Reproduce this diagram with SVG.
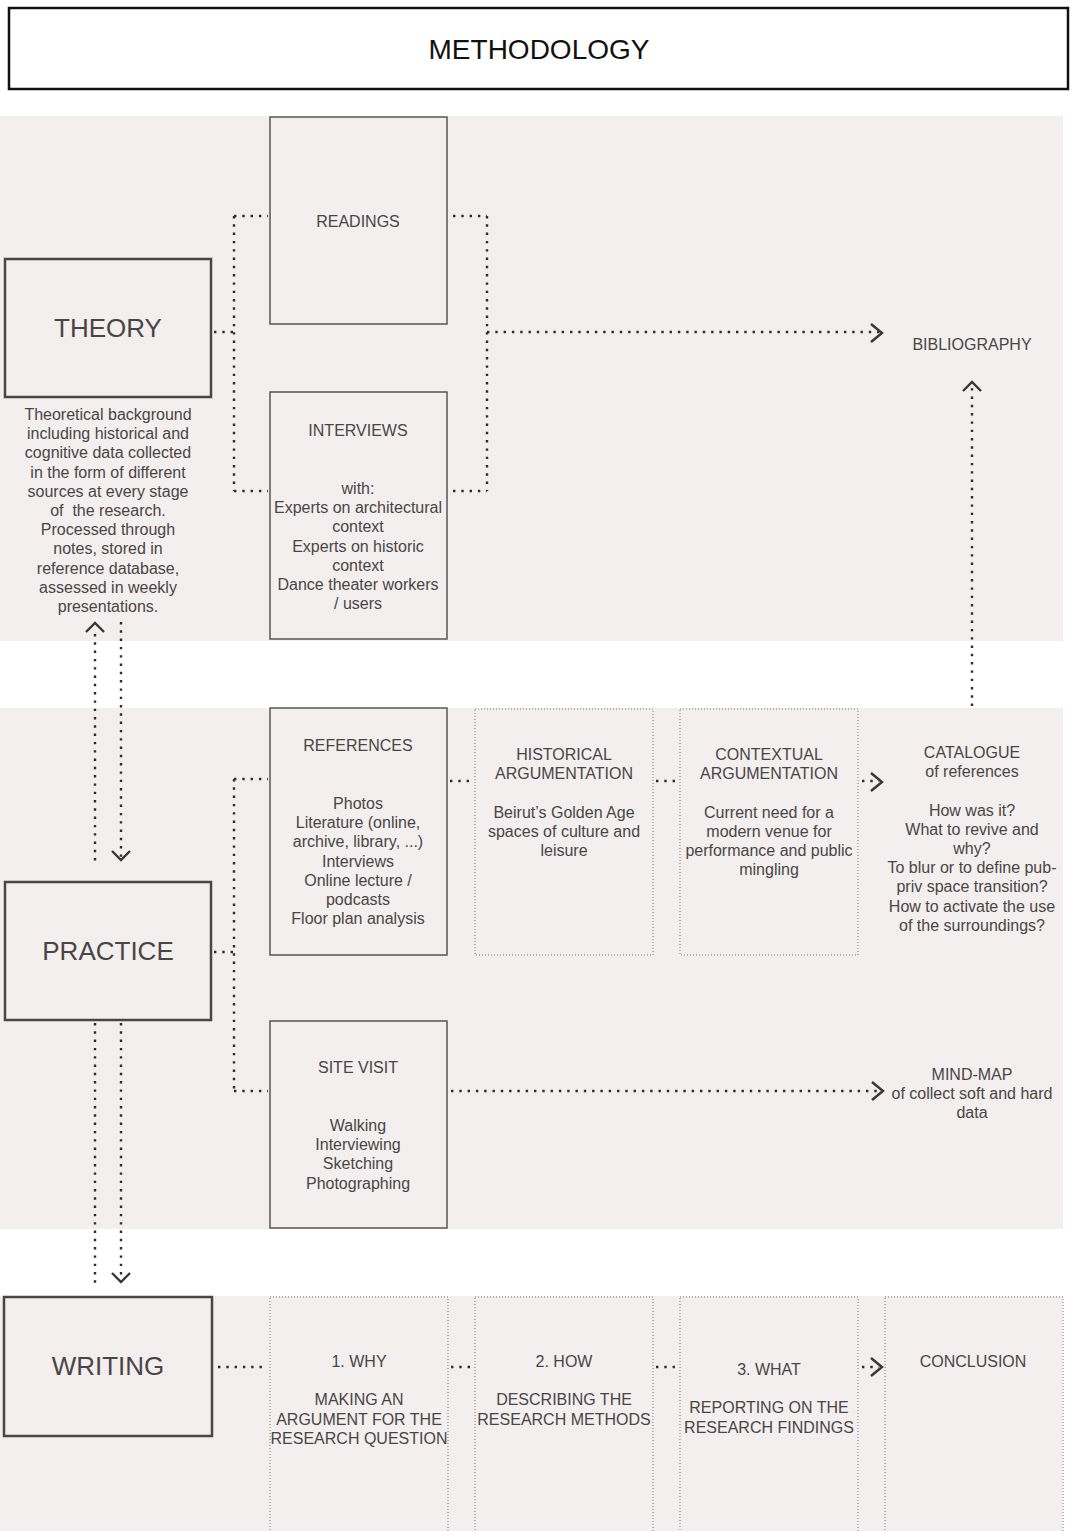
<svg xmlns="http://www.w3.org/2000/svg" width="1072" height="1531" viewBox="0 0 1072 1531">
<defs>
<style>
.t{font-family:"Liberation Sans",Arial,sans-serif;font-size:16px;fill:#4a4545;text-anchor:middle}
.big{font-size:26px}
.ttl{font-family:"Liberation Sans",Arial,sans-serif;font-size:28px;fill:#111;text-anchor:middle}
.panel{fill:#f3efee}
.main{fill:none;stroke:#4a4646;stroke-width:2.5}
.sub{fill:none;stroke:#5a5555;stroke-width:1.5}
.dbox{fill:none;stroke:#7d7878;stroke-width:1;stroke-dasharray:1 2}
.c{fill:none;stroke:#2e2c2c;stroke-width:2.4;stroke-dasharray:2.4 5.9}
.ah{fill:none;stroke:#3a3636;stroke-width:2.4}
</style>
</defs>
<rect width="1072" height="1531" fill="#ffffff"/>
<g id="panels">
<rect class="panel" x="0" y="116" width="1063" height="525"/>
<rect class="panel" x="0" y="708" width="1063" height="521"/>
<rect class="panel" x="0" y="1296" width="1063" height="235"/>
</g>
<g id="title">
<rect x="9" y="8" width="1059" height="81" fill="#fff" stroke="#111" stroke-width="2.5"/>
<text class="ttl" x="539" y="59">METHODOLOGY</text>
</g>
<g id="connectors">
<path class="c" d="M214,332 H234 M234,216 V491 M234,216 H268 M234,491 H268"/>
<path class="c" d="M453,216 H487 M453,491 H487 M487,216 V491 M487,332 H879"/>
<polyline class="ah" points="871,324 882,333 871,342"/>
<path class="c" d="M95,634 V862"/>
<polyline class="ah" points="86,632 95,623 104,632"/>
<path class="c" d="M121,622 V858"/>
<polyline class="ah" points="112,851 121,860 130,851"/>
<path class="c" d="M214,952 H234 M234,779 V1091 M234,779 H268 M234,1091 H268"/>
<path class="c" d="M450,781 H473 M656,781 H678 M862,781 H879"/>
<polyline class="ah" points="871,773 882,782 871,791"/>
<path class="c" d="M451,1091 H880"/>
<polyline class="ah" points="872,1082 883,1091 872,1100"/>
<path class="c" d="M972,706 V388"/>
<polyline class="ah" points="963,391 972,382 981,391"/>
<path class="c" d="M95,1023 V1286"/>
<path class="c" d="M121,1023 V1280"/>
<polyline class="ah" points="112,1273 121,1282 130,1273"/>
<path class="c" d="M218,1367 H267 M451,1367 H473 M656,1367 H678 M862,1367 H879"/>
<polyline class="ah" points="871,1358 882,1367 871,1376"/>
</g>
<g id="theory">
<rect class="main" x="5" y="259" width="206" height="138"/>
<text class="t big" x="108" y="337">THEORY</text>
<text class="t" x="108" y="420"><tspan x="108">Theoretical background</tspan><tspan x="108" dy="19.2">including historical and</tspan><tspan x="108" dy="19.2">cognitive data collected</tspan><tspan x="108" dy="19.2">in the form of different</tspan><tspan x="108" dy="19.2">sources at every stage</tspan><tspan x="108" dy="19.2">of&#160; the research.</tspan><tspan x="108" dy="19.2">Processed through</tspan><tspan x="108" dy="19.2">notes, stored in</tspan><tspan x="108" dy="19.2">reference database,</tspan><tspan x="108" dy="19.2">assessed in weekly</tspan><tspan x="108" dy="19.2">presentations.</tspan></text>
</g>
<g id="readings">
<rect class="sub" x="270" y="117" width="177" height="207"/>
<text class="t" x="358" y="227">READINGS</text>
</g>
<g id="interviews">
<rect class="sub" x="270" y="392" width="177" height="247"/>
<text class="t" x="358" y="436">INTERVIEWS</text>
<text class="t" x="358" y="494"><tspan x="358">with:</tspan><tspan x="358" dy="19.2">Experts on architectural</tspan><tspan x="358" dy="19.2">context</tspan><tspan x="358" dy="19.2">Experts on historic</tspan><tspan x="358" dy="19.2">context</tspan><tspan x="358" dy="19.2">Dance theater workers</tspan><tspan x="358" dy="19.2">/ users</tspan></text>
</g>
<g id="bibliography">
<text class="t" x="972" y="350">BIBLIOGRAPHY</text>
</g>
<g id="practice">
<rect class="main" x="5" y="882" width="206" height="138"/>
<text class="t big" x="108" y="960">PRACTICE</text>
</g>
<g id="references">
<rect class="sub" x="270" y="708" width="177" height="247"/>
<text class="t" x="358" y="751">REFERENCES</text>
<text class="t" x="358" y="809"><tspan x="358">Photos</tspan><tspan x="358" dy="19.2">Literature (online,</tspan><tspan x="358" dy="19.2">archive, library, ...)</tspan><tspan x="358" dy="19.2">Interviews</tspan><tspan x="358" dy="19.2">Online lecture /</tspan><tspan x="358" dy="19.2">podcasts</tspan><tspan x="358" dy="19.2">Floor plan analysis</tspan></text>
</g>
<g id="historical">
<rect class="dbox" x="475" y="709" width="178" height="246"/>
<text class="t" x="564" y="760"><tspan x="564">HISTORICAL</tspan><tspan x="564" dy="19.2">ARGUMENTATION</tspan><tspan x="564" dy="38.4">Beirut’s Golden Age</tspan><tspan x="564" dy="19.2">spaces of culture and</tspan><tspan x="564" dy="19.2">leisure</tspan></text>
</g>
<g id="contextual">
<rect class="dbox" x="680" y="709" width="178" height="246"/>
<text class="t" x="769" y="760"><tspan x="769">CONTEXTUAL</tspan><tspan x="769" dy="19.2">ARGUMENTATION</tspan><tspan x="769" dy="38.4">Current need for a</tspan><tspan x="769" dy="19.2">modern venue for</tspan><tspan x="769" dy="19.2">performance and public</tspan><tspan x="769" dy="19.2">mingling</tspan></text>
</g>
<g id="catalogue">
<text class="t" x="972" y="758"><tspan x="972">CATALOGUE</tspan><tspan x="972" dy="19.2">of references</tspan><tspan x="972" dy="38.4">How was it?</tspan><tspan x="972" dy="19.2">What to revive and</tspan><tspan x="972" dy="19.2">why?</tspan><tspan x="972" dy="19.2">To blur or to define pub-</tspan><tspan x="972" dy="19.2">priv space transition?</tspan><tspan x="972" dy="19.2">How to activate the use</tspan><tspan x="972" dy="19.2">of the surroundings?</tspan></text>
</g>
<g id="sitevisit">
<rect class="sub" x="270" y="1021" width="177" height="207"/>
<text class="t" x="358" y="1073">SITE VISIT</text>
<text class="t" x="358" y="1131"><tspan x="358">Walking</tspan><tspan x="358" dy="19.2">Interviewing</tspan><tspan x="358" dy="19.2">Sketching</tspan><tspan x="358" dy="19.2">Photographing</tspan></text>
</g>
<g id="mindmap">
<text class="t" x="972" y="1080"><tspan x="972">MIND-MAP</tspan><tspan x="972" dy="19.2">of collect soft and hard</tspan><tspan x="972" dy="19.2">data</tspan></text>
</g>
<g id="writing">
<rect class="main" x="4" y="1297" width="208" height="139"/>
<text class="t big" x="108" y="1375">WRITING</text>
</g>
<g id="why">
<rect class="dbox" x="270" y="1297" width="178" height="240"/>
<text class="t" x="359" y="1367"><tspan x="359">1. WHY</tspan><tspan x="359" dy="38.4">MAKING AN</tspan><tspan x="359" dy="19.2">ARGUMENT FOR THE</tspan><tspan x="359" dy="19.2">RESEARCH QUESTION</tspan></text>
</g>
<g id="how">
<rect class="dbox" x="475" y="1297" width="178" height="240"/>
<text class="t" x="564" y="1367"><tspan x="564">2. HOW</tspan><tspan x="564" dy="38.4">DESCRIBING THE</tspan><tspan x="564" dy="19.2">RESEARCH METHODS</tspan></text>
</g>
<g id="what">
<rect class="dbox" x="680" y="1297" width="178" height="240"/>
<text class="t" x="769" y="1375"><tspan x="769">3. WHAT</tspan><tspan x="769" dy="38.4">REPORTING ON THE</tspan><tspan x="769" dy="19.2">RESEARCH FINDINGS</tspan></text>
</g>
<g id="conclusion">
<rect class="dbox" x="885" y="1297" width="178" height="240"/>
<text class="t" x="973" y="1367">CONCLUSION</text>
</g>
</svg>
